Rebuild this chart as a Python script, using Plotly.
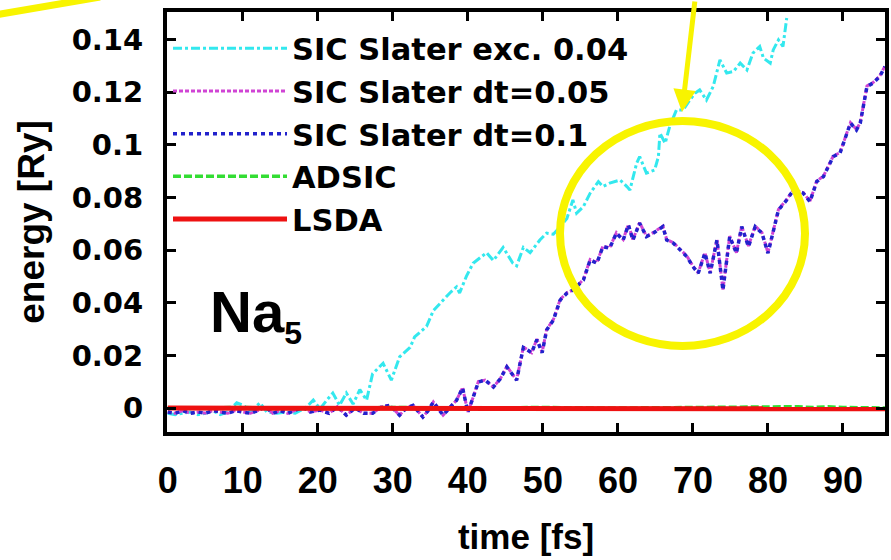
import plotly.graph_objects as go

# ---------------- data ----------------
t_exc = [0,1,2,3,4,5,6,7,8,9.2,10.1,11,12.3,13.2,14.5,15.8,17,18.5,19.4,
         20.3,21.2,22,22.9,23.8,24.7,25.6,26.5,27.3,28.7,
         29.8,30.9,32.3,32.9,34.5,35.4,36.7,37.6,38.5,38.9,
         39.8,40.7,42.5,43.4,44.7,46.0,46.5,47.4,48.3,49.6,
         50.5,51.4,52.3,53.2,54.0,54.5,55.4,56.3,57.4,58.0,
         58.9,60.3,61.2,61.6,62.5,62.9,63.8,64.9,65.4,65.6,
         66.3,66.9,67.8,68.7,69.6,70.3,70.9,71.8,72.7,73.6,
         74.5,75.4,76.3,77.2,78.0,78.9,79.4,80.3,80.7,81.4,82.0,82.5]
e_exc = [-0.002,-0.0025,-0.002,-0.0015,-0.0025,-0.002,-0.001,-0.0025,-0.0015,
         0.002,0.001,-0.0015,0.002,-0.0015,-0.002,-0.0015,-0.002,0.0004,0.003,
         -0.0003,0.003,0.0057,0.001,0.0057,0.0015,0.007,0.003,0.013,0.017,
         0.0106,0.0194,0.023,0.027,0.031,0.037,0.041,0.0437,0.046,0.0437,
         0.050,0.055,0.059,0.056,0.061,0.055,0.054,0.061,0.059,0.0638,
         0.0664,0.066,0.0689,0.072,0.079,0.074,0.0765,0.0816,0.086,0.0841,
         0.0854,0.0866,0.0841,0.0828,0.093,0.0955,0.0892,0.0904,0.0955,0.1044,
         0.1006,0.1069,0.1132,0.1132,0.117,0.1196,0.1208,0.117,0.1221,0.1322,
         0.1272,0.1278,0.131,0.1284,0.1348,0.1373,0.1329,0.131,0.136,0.1398,0.1373,0.1481]

t_dt = [0,1,2,3,4,5,6,7,8,9,10,11,12,13,14,15,16,17,18,19,
        20.3,21.5,22.6,23.8,25.0,26.1,27.3,28.5,29.6,30.9,
        31.8,32.7,34.0,34.7,35.4,36.7,37.6,38.5,39.3,40.0,
        40.7,41.4,42.3,43.4,44.3,45.2,46.5,47.4,48.5,49.2,
        49.9,50.5,51.4,52.3,53.2,54.0,55.4,56.3,57.2,58.0,
        58.9,59.8,60.7,61.4,62.0,62.9,63.8,64.7,66.0,66.5,
        67.4,68.3,69.2,70.0,70.7,71.6,72.3,73.2,74.0,74.9,
        75.8,76.5,77.4,78.3,79.2,80.0,81.4,82.5,83.4,84.7,
        85.6,86.5,87.4,88.7,89.6,91.0,91.8,92.3,93.2,94.0,94.9,95.6]
e_dt01 = [-0.0015,-0.002,-0.001,-0.002,-0.0015,-0.002,-0.001,-0.0015,-0.002,-0.001,
          -0.0015,-0.002,-0.001,0.0005,-0.002,-0.001,-0.002,-0.001,0.0003,-0.0015,
          -0.0008,-0.002,0.0005,-0.0027,0.0,-0.002,-0.002,0.0005,0.001,-0.0027,
          0.0,0.001,-0.0034,-0.001,0.0023,-0.0027,0.0,0.003,0.0076,-0.0015,
          0.004,0.0099,0.0106,0.008,0.011,0.0156,0.0106,0.023,0.021,0.026,
          0.021,0.0296,0.0334,0.041,0.0436,0.0448,0.0486,0.0562,0.055,0.0613,
          0.0607,0.0664,0.0638,0.0695,0.0638,0.0702,0.0651,0.0664,0.0689,0.0638,
          0.0626,0.06,0.0575,0.0537,0.0512,0.0588,0.0512,0.0638,0.0448,0.0651,
          0.0588,0.0689,0.0613,0.0689,0.0664,0.0588,0.0752,0.079,0.0828,0.0816,
          0.0784,0.086,0.0879,0.0955,0.0968,0.1082,0.1056,0.1082,0.1221,0.1234,0.1259,0.1297]
e_dt005 = [-0.0015,-0.002,-0.001,-0.002,-0.0015,-0.002,-0.001,-0.0015,-0.002,-0.001,
           -0.0015,-0.002,-0.001,0.0005,-0.002,-0.001,-0.002,-0.001,0.0003,-0.0015,
           -0.0008,-0.002,0.0005,-0.0027,0.0,-0.002,-0.002,0.0005,0.001,-0.0027,
           0.0,0.001,-0.0034,-0.001,0.0023,-0.0027,0.0,0.003,0.0078,-0.0015,
           0.004,0.0101,0.0106,0.008,0.011,0.0158,0.0106,0.0232,0.021,0.0262,
           0.0212,0.0298,0.0336,0.0412,0.0438,0.0448,0.0488,0.0564,0.0552,0.0615,
           0.0609,0.0666,0.064,0.0697,0.064,0.0704,0.0653,0.0666,0.0691,0.064,
           0.0628,0.0602,0.0577,0.0539,0.0514,0.059,0.0514,0.064,0.045,0.0653,
           0.059,0.0691,0.0615,0.0691,0.0666,0.059,0.0754,0.0792,0.083,0.0818,
           0.0786,0.0862,0.0881,0.0957,0.097,0.1084,0.1058,0.1084,0.1223,0.1236,0.1261,0.1299]

t_adsic = [0,10,20,30,40,50,60,70,80,82,84,86,88,90,95.6]
e_adsic = [0,0.0002,-0.0002,0.0002,0,0.0002,0,0.0002,0.0005,0.0003,0.0005,0.0002,0.0005,0.0002,0]

t_lsda = [0,20,40,58,60,62,80,90,95.6]
e_lsda = [0,0,0,0,-0.0004,0,0,0,-0.0003]

x_ticks = [0,10,20,30,40,50,60,70,80,90]
y_ticks = [0,0.02,0.04,0.06,0.08,0.1,0.12,0.14]
y_ticktext = ["0","0.02","0.04","0.06","0.08","0.1","0.12","0.14"]

# ---------------- figure ----------------
FONT = "Liberation Sans, Arial, sans-serif"
WIDE = "DejaVu Sans, Liberation Sans, sans-serif"
YELLOW = "#f8f400"

fig = go.Figure()
fig.add_trace(go.Scatter(x=t_exc, y=e_exc, mode="lines", name="SIC Slater exc. 0.04",
                         line=dict(color="#33e8ee", width=3, dash="9px,3px,3px,3px")))
fig.add_trace(go.Scatter(x=t_dt, y=e_dt005, mode="lines", name="SIC Slater dt=0.05",
                         line=dict(color="#d044d4", width=3, dash="4px,2px")))
fig.add_trace(go.Scatter(x=t_dt, y=e_dt01, mode="lines", name="SIC Slater dt=0.1",
                         line=dict(color="#2222cc", width=3.5, dash="4px,4px")))
fig.add_trace(go.Scatter(x=t_adsic, y=e_adsic, mode="lines", name="ADSIC",
                         line=dict(color="#33dd33", width=3.5, dash="8px,3px")))
fig.add_trace(go.Scatter(x=t_lsda, y=e_lsda, mode="lines", name="LSDA",
                         line=dict(color="#ee1111", width=5)))

L, R, T, B = 167, 6, 12, 128
W, H = 891, 560
pw, ph = W - L - R, H - T - B

def px(x):
    return (x - L) / pw

def py(y):
    return (H - B - y) / ph

axis_common = dict(showline=True, linecolor="black", linewidth=4, mirror="ticks",
                   ticks="inside", ticklen=9, tickwidth=3, tickcolor="black",
                   showgrid=False, zeroline=False, automargin=False)

fig.update_layout(
    template="none",
    width=W, height=H,
    margin=dict(l=L, r=R, t=T, b=B, pad=0, autoexpand=False),
    paper_bgcolor="white", plot_bgcolor="white",
    font=dict(family=FONT, color="black", weight="bold"),
    xaxis=dict(range=[-0.1, 95.6], tickvals=x_ticks,
               tickfont=dict(size=36, family=FONT, weight="bold"),
               ticklabelstandoff=14,
               title=dict(text="time [fs]", font=dict(size=35, family=FONT, weight="bold"),
                          standoff=25),
               **axis_common),
    yaxis=dict(range=[-0.0091, 0.1504], tickvals=y_ticks, ticktext=y_ticktext,
               tickfont=dict(size=29, family=WIDE, weight="bold"),
               ticklabelstandoff=14,
               title=dict(text="energy [Ry]", font=dict(size=37, family=FONT, weight="bold"),
                          standoff=17),
               **axis_common),
    legend=dict(x=px(168), y=py(22), xanchor="left", yanchor="top",
                bgcolor="rgba(0,0,0,0)", borderwidth=0, itemwidth=114,
                font=dict(size=30.5, family=WIDE, weight="bold"),
                tracegroupgap=0),
    showlegend=True,
)

# Na5 label
fig.add_annotation(xref="paper", yref="paper", x=px(208), y=py(315),
                   xanchor="left", yanchor="middle", showarrow=False,
                   text="Na<sub><span style='font-size:32px'>5</span></sub>",
                   font=dict(size=58, family=FONT, weight="bold", color="black"))

# yellow highlighting circle
fig.add_shape(type="circle", xref="paper", yref="paper",
              x0=px(560), x1=px(805), y0=py(346), y1=py(121),
              line=dict(color=YELLOW, width=8), layer="above")

# yellow arrow from the top
fig.add_annotation(xref="paper", yref="paper", x=px(682), y=py(112),
                   ax=13, ay=-118, text="", showarrow=True,
                   arrowhead=2, arrowsize=0.9, arrowwidth=5, arrowcolor=YELLOW)

# yellow line at the top-left corner
fig.add_shape(type="line", xref="paper", yref="paper",
              x0=px(-5), y0=py(15), x1=px(100), y1=py(-3),
              line=dict(color=YELLOW, width=7), layer="above")

fig.write_html("out.html",
               config={"displayModeBar": False},
               post_script="document.body.style.margin='0px';document.body.style.padding='0px';")
